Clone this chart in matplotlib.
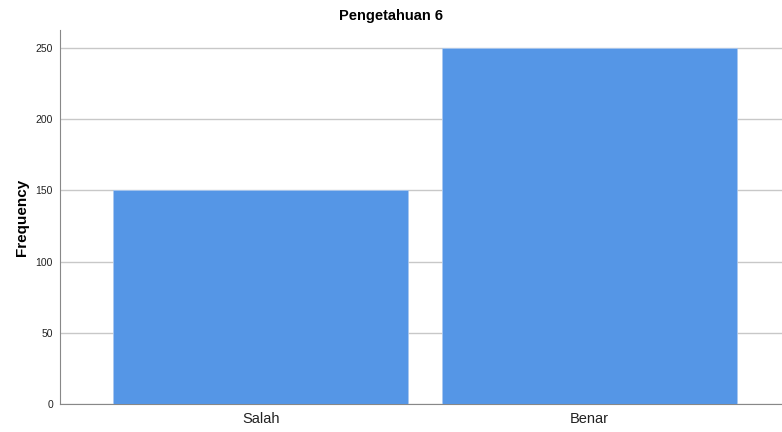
import matplotlib
matplotlib.use("Agg")
import matplotlib.pyplot as plt

# data
categories = ["Salah", "Benar"]
frequency = [150, 250]
y_ticks = [0, 50, 100, 150, 200, 250]

plt.rcParams['font.family'] = ['Arial', 'Liberation Sans', 'DejaVu Sans']

fig = plt.figure(figsize=(7.82, 4.32), dpi=100)
ax = fig.add_axes([60 / 782, 28 / 432, 722 / 782, 374 / 432])

x = range(len(categories))
ax.bar(x, frequency, width=0.897, color="#5596E6", edgecolor="#a9c8f0", linewidth=0.6, zorder=3)

ax.set_xlim(-0.61, 1.585)
ax.set_ylim(0, 262.6)
ax.set_yticks(y_ticks)
ax.set_xticks(list(x))
ax.set_xticklabels(categories, fontsize=10.5, color="#222222")
ax.tick_params(axis='y', labelsize=7.5, length=0, pad=5, labelcolor="#222222")
ax.tick_params(axis='x', length=0, pad=6)

# horizontal grid
ax.yaxis.grid(True, color="#c8c8c8", linewidth=1.0, zorder=0)
ax.set_axisbelow(True)

for side in ['top', 'right']:
    ax.spines[side].set_visible(False)
ax.spines['left'].set_color("#888888")
ax.spines['bottom'].set_color("#888888")

ax.set_ylabel("Frequency", fontsize=11, fontweight='bold', labelpad=5)
fig.text(0.5, 0.962, "Pengetahuan 6", ha='center', va='center', fontsize=10.5, fontweight='bold')

fig.savefig("out.png", dpi=100)
